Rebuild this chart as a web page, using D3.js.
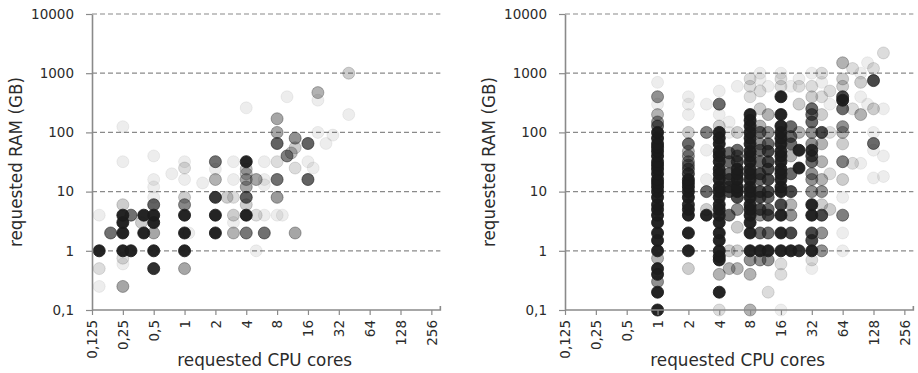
<!DOCTYPE html>
<html>
<head>
<meta charset="utf-8">
<script src="https://cdn.jsdelivr.net/npm/d3@7"></script>
<style>
  html, body { margin: 0; padding: 0; background: #fff; }
  svg { display: block; }
  text { font-family: "DejaVu Sans", Verdana, sans-serif; fill: #2b2b2b; }
</style>
</head>
<body>
<svg id="chart" width="918" height="373"></svg>
<script>
// Axis ticks (log2 for cores, log10 for memory)
const cpuTicks = [0.125, 0.25, 0.5, 1, 2, 4, 8, 16, 32, 64, 128, 256];
const cpuTickLabels = ["0,125", "0,25", "0,5", "1", "2", "4", "8", "16", "32", "64", "128", "256"];
const ramTicks = [0.1, 1, 10, 100, 1000, 10000];
const ramTickLabels = ["0,1", "1", "10", "100", "1000", "10000"];

const xTitle = "requested CPU cores";
const yTitle = "requested RAM (GB)";

// Requests on the first system: [cpu cores, ram GB, number of jobs]
const firstRequests = [
  [0.147, 1, 40], [0.147, 4, 1], [0.147, 0.5, 2], [0.147, 0.25, 1],
  [0.19, 2, 12],
  [0.25, 1, 40], [0.25, 2, 40], [0.25, 3, 40], [0.25, 4, 40], [0.25, 6, 3],
  [0.25, 0.75, 2], [0.25, 0.6, 1], [0.25, 0.25, 6], [0.25, 32, 1], [0.25, 125, 1],
  [0.3, 1, 40], [0.3, 4, 12],
  [0.38, 3, 3], [0.4, 2, 40], [0.4, 4, 40],
  [0.5, 0.5, 30], [0.5, 1, 40], [0.5, 2, 6], [0.5, 3, 40], [0.5, 4, 40], [0.5, 6, 14],
  [0.5, 8, 1], [0.5, 12, 1], [0.5, 16, 1], [0.5, 40, 1],
  [0.75, 20, 1],
  [1, 0.5, 6], [1, 1, 40], [1, 2, 40], [1, 4, 40], [1, 6, 9], [1, 8, 3],
  [1, 16, 1], [1, 25, 2], [1, 32, 1], [1.1, 2, 1],
  [1.5, 14, 1],
  [2, 2, 40], [2, 4, 40], [2, 8, 25], [2, 16, 5], [2, 24, 1], [2, 32, 12],
  [2.6, 8, 3], [3, 2, 5], [3, 3, 1], [3, 4, 3], [3, 8, 2], [3, 16, 1], [3, 32, 1],
  [4, 2, 11], [4, 4, 40], [4, 6, 3], [4, 8, 15], [4, 12, 6], [4, 16, 6], [4, 20, 4],
  [4, 24, 4], [4, 32, 40], [4, 260, 1],
  [5, 1, 1], [5, 4, 2], [5, 16, 6],
  [6, 2, 12], [6, 4, 1], [6, 13, 1], [6, 16, 1], [6, 32, 1],
  [8, 4, 1], [8, 8, 7], [8, 16, 12], [8, 32, 2], [8, 65, 14], [8, 100, 6], [8, 170, 6],
  [9, 4, 1],
  [10, 40, 10], [10, 400, 1],
  [11, 45, 4], [12, 2, 6], [12, 25, 2], [12, 55, 3], [12, 80, 8],
  [16, 16, 14], [16, 32, 1], [16, 65, 14],
  [18, 25, 1], [20, 100, 1], [20, 350, 1], [20, 470, 5],
  [24, 65, 1], [28, 90, 1],
  [40, 200, 1], [40, 1000, 3]
];

// Requests on the second system, grouped by core count: [cpu, [[ram GB, jobs], ...]]
const secondRequestColumns = [
  [1, [[0.1, 40], [0.2, 40], [0.3, 8], [0.4, 40], [0.5, 40], [0.75, 5], [1, 40], [1.5, 40],
       [2, 40], [3, 40], [4, 40], [5, 40], [6, 40], [8, 40], [10, 40], [12, 40], [14, 40],
       [16, 40], [20, 40], [24, 40], [28, 40], [32, 40], [40, 40], [48, 40], [56, 40],
       [64, 40], [80, 40], [100, 40], [128, 13], [150, 8], [200, 5], [300, 1], [400, 8], [700, 1]]],
  [2, [[0.5, 3], [1, 40], [2, 40], [4, 40], [5, 40], [6, 30], [8, 40], [10, 40], [12, 40],
       [14, 40], [16, 40], [20, 20], [24, 13], [28, 10], [32, 8], [40, 8], [48, 5], [64, 13],
       [100, 3], [200, 1], [300, 1], [400, 1]]],
  [3, [[4, 40], [5, 3], [10, 13], [16, 1], [50, 1], [100, 10], [300, 1]]],
  [4, [[0.1, 2], [0.2, 40], [0.4, 5], [0.7, 40], [0.8, 40], [1, 40], [1.5, 40], [2, 40],
       [3, 40], [4, 40], [5, 40], [6, 40], [8, 40], [10, 40], [12, 40], [16, 40], [20, 40],
       [24, 40], [32, 40], [40, 40], [48, 40], [64, 40], [80, 40], [100, 40], [128, 3],
       [200, 1], [300, 13], [500, 1]]],
  [5, [[0.5, 5], [1, 3], [4, 13], [10, 20], [12, 20], [16, 20], [20, 13], [32, 13],
       [45, 13], [100, 1], [150, 1]]],
  [6, [[0.5, 5], [1, 3], [2.5, 3], [5, 8], [8, 20], [10, 40], [12, 40], [16, 40], [20, 40],
       [24, 40], [32, 20], [40, 13], [50, 13], [100, 3], [600, 1]]],
  [8, [[0.1, 5], [0.4, 5], [0.7, 8], [1, 40], [2, 40], [3, 40], [4, 40], [5, 40], [6, 40],
       [8, 40], [10, 40], [12, 40], [16, 40], [20, 40], [24, 40], [32, 40], [40, 40], [48, 40],
       [64, 40], [80, 40], [100, 40], [128, 40], [160, 40], [200, 40], [400, 2], [600, 2], [800, 2]]],
  [10, [[0.7, 8], [1, 40], [2, 13], [4, 8], [5, 20], [8, 20], [10, 20], [16, 13], [20, 20],
        [32, 13], [50, 13], [64, 8], [100, 13], [128, 5], [250, 3], [500, 2], [800, 1], [1000, 1]]],
  [12, [[0.2, 2], [0.7, 8], [1, 40], [2, 13], [4, 20], [5, 13], [8, 13], [10, 20], [16, 20],
        [24, 20], [32, 20], [48, 20], [64, 13], [100, 8], [200, 5], [600, 1]]],
  [16, [[0.1, 1], [0.4, 2], [0.6, 2], [1, 40], [2, 40], [4, 40], [6, 20], [10, 40], [12, 40],
        [16, 40], [20, 40], [24, 40], [32, 40], [40, 40], [48, 40], [64, 40], [80, 40],
        [100, 40], [128, 40], [200, 40], [400, 40], [600, 2], [800, 2], [1000, 1]]],
  [20, [[1, 40], [2, 20], [4, 8], [6, 5], [10, 20], [20, 13], [40, 5], [64, 13], [85, 13],
        [125, 13], [600, 1]]],
  [24, [[1, 30], [25, 40], [50, 40], [100, 5], [300, 3], [600, 2], [800, 1]]],
  [32, [[0.5, 1], [0.7, 2], [1, 40], [1.5, 20], [2, 20], [4, 40], [6, 40], [10, 8], [16, 8],
        [20, 8], [32, 13], [40, 20], [50, 30], [64, 8], [100, 8], [150, 13], [200, 13],
        [250, 13], [400, 3], [600, 2], [1000, 1]]],
  [40, [[1, 8], [2, 8], [4, 20], [6, 3], [10, 8], [16, 5], [32, 5], [64, 5], [100, 20],
        [200, 3], [400, 2], [700, 1], [1000, 2]]],
  [48, [[5, 3], [20, 2], [100, 2], [300, 1], [500, 2]]],
  [64, [[1, 1], [2, 1], [4, 10], [8, 1], [16, 3], [32, 10], [64, 3], [100, 5], [125, 8],
        [250, 13], [350, 40], [400, 20], [600, 3], [800, 3], [1500, 5]]],
  [80, [[30, 2], [250, 2], [1200, 2]]],
  [96, [[30, 1], [200, 5], [400, 1], [700, 3], [1000, 1]]],
  [112, [[300, 1], [1500, 1]]],
  [128, [[17, 1], [50, 1], [65, 13], [100, 1], [250, 3], [750, 20], [1200, 2]]],
  [160, [[18, 1], [40, 1], [250, 1], [2200, 2]]]
];

const secondRequests = secondRequestColumns.flatMap(([cpu, list]) =>
  list.map(([ram, n]) => [cpu, ram, n]));

// Each job adds a thin layer of ink; overlapping jobs darken the dot
const JOB_ALPHA = 0.08;
const dotOpacity = n => 1 - Math.pow(1 - JOB_ALPHA, n);

const svg = d3.select("#chart");
const plotTop = 14, plotBottom = 310;
const octave = 30.85;

function drawPanel(opts) {
  const { left, titleX, data } = opts;
  const right = left + octave * 11;
  const gridEnd = right + 9;

  const x = d3.scaleLog().base(2).domain([0.125, 256]).range([left, right]);
  const y = d3.scaleLog().domain([0.1, 10000]).range([plotBottom, plotTop]);

  const g = svg.append("g");

  // dashed horizontal grid
  g.append("g").selectAll("line").data(ramTicks.slice(1)).join("line")
    .attr("x1", left).attr("x2", gridEnd)
    .attr("y1", d => y(d)).attr("y2", d => y(d))
    .attr("stroke", "#8a8a8a").attr("stroke-width", 1.2)
    .attr("stroke-dasharray", "5,3");

  // dots
  g.append("g").selectAll("circle").data(data).join("circle")
    .attr("cx", d => x(d[0])).attr("cy", d => y(d[1]))
    .attr("r", 6)
    .attr("fill", "#1c1c1c")
    .attr("fill-opacity", d => dotOpacity(d[2]))
    .attr("stroke", "#1c1c1c")
    .attr("stroke-opacity", d => dotOpacity(d[2]))
    .attr("stroke-width", 0.9);

  // y axis
  const yAxis = d3.axisLeft(y).tickValues(ramTicks)
    .tickFormat((d, i) => ramTickLabels[i]).tickSize(6).tickSizeOuter(0).tickPadding(12);
  const ya = g.append("g").attr("transform", `translate(${left},0)`).call(yAxis);
  ya.select(".domain").attr("stroke", "#8a8a8a").attr("stroke-width", 1.6);
  ya.selectAll(".tick line").attr("stroke", "#8a8a8a").attr("stroke-width", 1.2);
  ya.selectAll(".tick text").attr("font-size", 13.5).attr("font-family", null).attr("fill", "#2b2b2b");

  // x axis
  const xAxis = d3.axisBottom(x).tickValues(cpuTicks)
    .tickFormat((d, i) => cpuTickLabels[i]).tickSize(5).tickSizeOuter(0);
  const xa = g.append("g").attr("transform", `translate(0,${plotBottom})`).call(xAxis);
  xa.select(".domain").remove();
  xa.selectAll(".tick line").attr("stroke", "#8a8a8a").attr("stroke-width", 1.2);
  xa.selectAll(".tick text")
    .attr("font-size", 13.5).attr("font-family", null).attr("fill", "#2b2b2b")
    .attr("text-anchor", "end")
    .attr("transform", "rotate(-90)")
    .attr("x", -10).attr("y", 0).attr("dy", "0.36em");
  xa.append("path")
    .attr("d", `M${left},0H${gridEnd}V-4`)
    .attr("fill", "none").attr("stroke", "#8a8a8a").attr("stroke-width", 1.6);

  // titles
  g.append("text")
    .attr("transform", `translate(${titleX},${(plotTop + plotBottom) / 2}) rotate(-90)`)
    .attr("text-anchor", "middle").attr("dy", "0.35em")
    .attr("font-size", 16.8).text(yTitle);
  g.append("text")
    .attr("x", (left + right) / 2 + 3).attr("y", 366)
    .attr("text-anchor", "middle")
    .attr("font-size", 16.8).text(xTitle);
}

drawPanel({ left: 92, titleX: 16, data: firstRequests });
drawPanel({ left: 565, titleX: 489, data: secondRequests });
</script>
</body>
</html>
